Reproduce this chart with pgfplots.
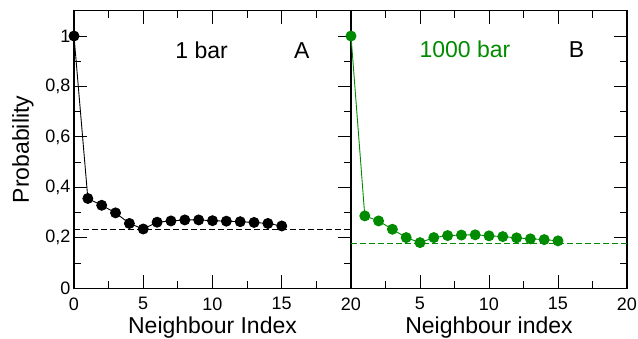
\documentclass[border=0pt]{standalone}
\usepackage{fontspec}
\setmainfont{Liberation Sans}
\usepackage{pgfplots}
\pgfplotsset{compat=1.18}
\definecolor{ggreen}{RGB}{0,139,0}
\begin{document}
\begin{tikzpicture}[x=1pt,y=1pt]
\useasboundingbox (0,0) rectangle (638,339);
\pgfplotsset{
  panel/.style={
    scale only axis, height=277.5pt,
    xmin=0, xmax=20, ymin=0, ymax=1.1,
    axis line style={line width=1.2pt, black},
    tick style={line width=0.9pt, black},
    major tick length=13pt, minor tick length=7pt,
    tick align=inside,
    xtick={0,5,10,15,20}, minor x tick num=1,
    ytick={0,0.2,0.4,0.6,0.8,1}, minor y tick num=1,
    /pgf/number format/.cd, use comma, assume math mode=true, /pgfplots/.cd,
    tick label style={font=\fontsize{18}{21}\selectfont},
    xticklabel style={inner sep=0pt, anchor=north, yshift=-9pt},
    label style={font=\fontsize{23}{26}\selectfont},
    xlabel style={at={(axis description cs:0.5,-0.162)}, anchor=base, inner sep=0pt},
  },
  pts/.style={line width=0.9pt, mark=*, mark size=5pt},
}
\begin{axis}[panel, at={(74pt,50.7pt)}, anchor=south west, width=277pt,
  xticklabels={0,5,10,15,20},
  xlabel={Neighbour Index}, ylabel={Probability},
  ylabel style={at={(axis description cs:-0.184,0.5)}, anchor=center}]
\addplot[black, line width=1pt, dash pattern=on 6pt off 3pt] coordinates {(0,0.234) (20,0.234)};
\addplot[black, pts, mark options={fill=black}] coordinates {
(0,1.0) (1,0.356) (2,0.329) (3,0.299) (4,0.257) (5,0.235) (6,0.262) (7,0.267)
(8,0.271) (9,0.271) (10,0.268) (11,0.266) (12,0.264) (13,0.261) (14,0.257) (15,0.247)};
\node[font=\fontsize{23}{26}\selectfont] at (axis cs:9.22,0.944) {1 bar};
\node[font=\fontsize{23}{26}\selectfont] at (axis cs:16.44,0.944) {A};
\end{axis}
\begin{axis}[panel, at={(351pt,50.7pt)}, anchor=south west, width=276pt,
  xticklabels={,5,10,15,20}, ytick pos=right, yticklabels={},
  xlabel={Neighbour index}]
\addplot[ggreen, line width=1pt, dash pattern=on 6pt off 3pt] coordinates {(0,0.179) (20,0.179)};
\addplot[ggreen, pts, mark options={fill=ggreen}] coordinates {
(0,1.0) (1,0.287) (2,0.267) (3,0.234) (4,0.201) (5,0.181) (6,0.201) (7,0.209)
(8,0.211) (9,0.212) (10,0.208) (11,0.205) (12,0.200) (13,0.196) (14,0.193) (15,0.188)};
\node[font=\fontsize{23}{26}\selectfont, text=ggreen] at (axis cs:8.26,0.948) {1000 bar};
\node[font=\fontsize{23}{26}\selectfont] at (axis cs:16.35,0.948) {B};
\end{axis}
\end{tikzpicture}
\end{document}
